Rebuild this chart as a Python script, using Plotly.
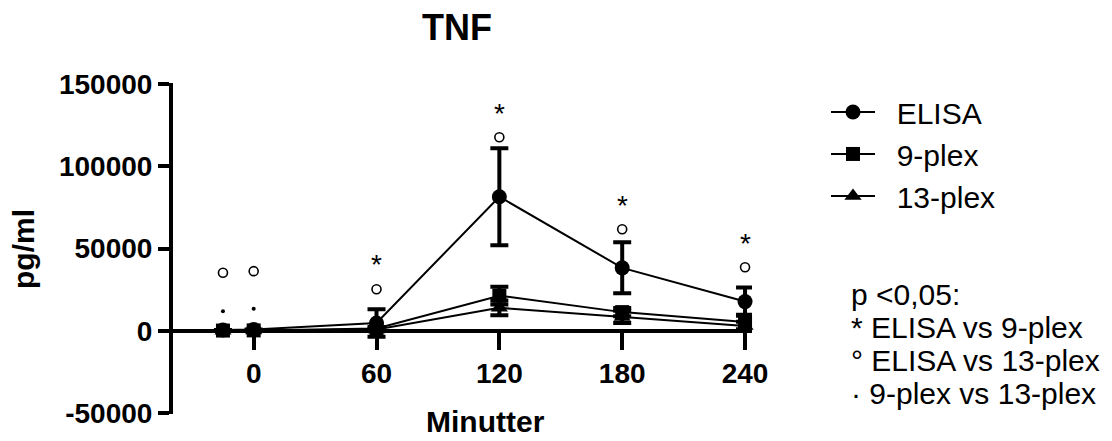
import plotly.graph_objects as go

# Sampling times (minutes) and mean TNF concentrations (pg/ml) with SEM
minutes = [-15, 0, 60, 120, 180, 240]
elisa = [500, 800, 4800, 81500, 38300, 17800]
elisa_sem = [0, 0, 8400, 29500, 15500, 8600]
plex9 = [200, 300, 1500, 21400, 11400, 5400]
plex9_sem = [0, 0, 800, 5400, 2500, 4400]
plex13 = [100, 200, 800, 14000, 8500, 3000]
plex13_sem = [0, 0, 500, 4500, 3700, 2500]

# Significance symbols (p < 0.05) placed above each time point
star_x = [60, 120, 180, 240]          # ELISA vs 9-plex
star_y = [44300, 136100, 80700, 57300]
ring_x = [-15, 0, 60, 120, 180, 240]  # ELISA vs 13-plex
ring_y = [35300, 36300, 25300, 117600, 61700, 38700]
dot_x = [-15, 0]                      # 9-plex vs 13-plex
dot_y = [12000, 13400]

x_ticks = [0, 60, 120, 180, 240]
y_ticks = [-50000, 0, 50000, 100000, 150000]
y_ticktext = ["-50000", "0", "50000", "100000", "150000"]

key_lines = ["p <0,05:", "* ELISA vs 9-plex", "° ELISA vs 13-plex",
             "· 9-plex vs 13-plex"]

FONT = "Liberation Sans, Arial, sans-serif"
Y_RANGE = [-50500, 150600]
X_RANGE = [-39.4, 243.4]

# plot area in pixels
W, H = 1112, 441
L, R, T, B = 173, 360, 83, 23
PW, PH = W - L - R, H - T - B


def px_x(px):
    return (px - L) / PW


def px_y(py):
    return (H - B - py) / PH


series = [
    ("ELISA", elisa, elisa_sem, "circle", 15),
    ("9-plex", plex9, plex9_sem, "square", 14),
    ("13-plex", plex13, plex13_sem, "triangle-up", 15),
]

NBSP = "\u00a0"

fig = go.Figure()
for name, vals, sem, sym, size in series:
    fig.add_trace(go.Scatter(
        x=minutes, y=vals, name=NBSP * 2 + name, legendgroup=name,
        mode="lines+markers",
        line=dict(color="black", width=2),
        marker=dict(symbol=sym, size=size, color="black"),
        error_y=dict(type="data", array=sem, color="black",
                     thickness=4, width=9),
        cliponaxis=False,
    ))

fig.add_trace(go.Scatter(
    x=ring_x, y=ring_y, mode="markers", showlegend=False,
    marker=dict(symbol="circle-open", size=9, color="black",
                line=dict(width=1.6, color="black")),
    cliponaxis=False, hoverinfo="skip",
))
fig.add_trace(go.Scatter(
    x=dot_x, y=dot_y, mode="markers", showlegend=False,
    marker=dict(symbol="circle", size=4, color="black"),
    cliponaxis=False, hoverinfo="skip",
))

annotations = []
for sx, sy in zip(star_x, star_y):
    annotations.append(dict(
        x=sx, y=sy, xref="x", yref="y", text="*", showarrow=False,
        font=dict(family=FONT, size=28, color="black"), yshift=-7,
    ))

annotations += [
    dict(text="pg/ml", x=px_x(24), y=px_y(251), xref="paper", yref="paper",
         textangle=-90, showarrow=False, xanchor="center", yanchor="middle",
         font=dict(family=FONT, size=30, color="black", weight="bold")),
    dict(text="Minutter", x=px_x(485), y=px_y(426), xref="paper", yref="paper",
         showarrow=False, xanchor="center", yanchor="middle",
         font=dict(family=FONT, size=30, color="black", weight="bold")),
]

# significance key, one line per annotation
for i, line in enumerate(key_lines):
    annotations.append(dict(
        text=line, x=px_x(849), y=px_y(297 + 33.5 * i),
        xref="paper", yref="paper", showarrow=False,
        xanchor="left", yanchor="middle", align="left",
        font=dict(family=FONT, size=30, color="black"),
    ))

fig.update_layout(
    width=W, height=H,
    margin=dict(l=L, r=R, t=T, b=B, pad=0),
    paper_bgcolor="white", plot_bgcolor="white",
    font=dict(family=FONT, color="black"),
    title=dict(text="TNF", x=457 / W, xanchor="center", y=1 - 27 / H,
               yanchor="middle", xref="container", yref="container",
               font=dict(family=FONT, size=36, color="black", weight="bold")),
    showlegend=True,
    legend=dict(x=px_x(826), y=px_y(86), xanchor="left", yanchor="top",
                font=dict(family=FONT, size=30, color="black"),
                bgcolor="rgba(0,0,0,0)", itemwidth=44, tracegroupgap=17,
                traceorder="normal"),
    xaxis=dict(
        range=X_RANGE, anchor="free",
        position=(0 - Y_RANGE[0]) / (Y_RANGE[1] - Y_RANGE[0]),
        showline=True, linewidth=4, linecolor="black",
        ticks="outside", ticklen=17, tickwidth=4, tickcolor="black",
        tickvals=x_ticks, showgrid=False, zeroline=False,
        tickfont=dict(family=FONT, size=28, color="black", weight="bold"),
    ),
    yaxis=dict(
        range=Y_RANGE, showline=True, linewidth=4, linecolor="black",
        ticks="outside", ticklen=11, tickwidth=4, tickcolor="black",
        tickvals=y_ticks, ticktext=y_ticktext, showgrid=False, zeroline=False,
        tickfont=dict(family=FONT, size=28, color="black", weight="bold"),
    ),
    annotations=annotations,
)

fig.write_html("out.html")
